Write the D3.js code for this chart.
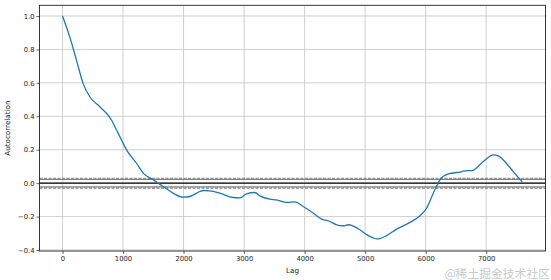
<!DOCTYPE html>
<html><head><meta charset="utf-8">
<script src="https://cdn.jsdelivr.net/npm/d3@7"></script>
<style>body{margin:0;background:#fff}svg{display:block}</style>
</head><body><svg id="c" width="551" height="280"></svg>
<script>
const lags = [0,120,231,340,451,617,810,893,975,1058,1223,1333,1498,1663,1828,1993,2104,2270,2324,2435,2600,2820,2931,3041,3178,3261,3426,3537,3702,3840,3977,4142,4281,4390,4529,4638,4721,4914,5025,5134,5190,5245,5355,5521,5741,5906,6017,6126,6236,6374,6567,6678,6760,6952,7117,7200,7283,7448,7597];
const acf = [1.0,0.875,0.736,0.597,0.517,0.457,0.378,0.318,0.258,0.199,0.119,0.06,0.02,-0.02,-0.06,-0.084,-0.08,-0.05,-0.044,-0.046,-0.06,-0.086,-0.088,-0.064,-0.056,-0.076,-0.096,-0.10,-0.115,-0.112,-0.14,-0.179,-0.215,-0.225,-0.249,-0.255,-0.249,-0.279,-0.308,-0.328,-0.334,-0.332,-0.314,-0.275,-0.235,-0.195,-0.149,-0.06,0.02,0.055,0.066,0.075,0.075,0.129,0.169,0.163,0.139,0.069,0.006];
const xTicks = [0,1000,2000,3000,4000,5000,6000,7000];
const yTicks = [-0.4,-0.2,0.0,0.2,0.4,0.6,0.8,1.0];
const nObs = 7600;
const z95 = 1.959963984540054, z99 = 2.5758293035489;

const svg = d3.select("#c");
const L = 39.5, R = 545.5, T = 5.3, B = 251;
const x = d3.scaleLinear().domain([-380, 7980]).range([L, R]);
const y = d3.scaleLinear().domain([-0.406, 1.064]).range([B, T]);
const font = "DejaVu Sans, sans-serif";

// grid
const g = svg.append("g");
g.selectAll(".vg").data(xTicks).join("line")
  .attr("x1", d => x(d)).attr("x2", d => x(d)).attr("y1", T).attr("y2", B)
  .attr("stroke", "#c4c4c4").attr("stroke-width", 0.8);
g.selectAll(".hg").data(yTicks).join("line")
  .attr("y1", d => y(d)).attr("y2", d => y(d)).attr("x1", L).attr("x2", R)
  .attr("stroke", "#c4c4c4").attr("stroke-width", 0.8);

// reference lines
const refs = [
  {v: z99/Math.sqrt(nObs), dash: "3,1.5", c: "grey"},
  {v: z95/Math.sqrt(nObs), dash: null, c: "grey"},
  {v: 0, dash: null, c: "black"},
  {v: -z95/Math.sqrt(nObs), dash: null, c: "grey"},
  {v: -z99/Math.sqrt(nObs), dash: "3,1.5", c: "grey"}
];
svg.selectAll(".ref").data(refs).join("line")
  .attr("x1", L).attr("x2", R).attr("y1", d => y(d.v)).attr("y2", d => y(d.v))
  .attr("stroke", d => d.c).attr("stroke-width", 1.1)
  .attr("stroke-dasharray", d => d.dash);

// line
const pts = lags.map((l, i) => [l, acf[i]]);
svg.append("path").datum(pts)
  .attr("fill", "none").attr("stroke", "#1f77b4").attr("stroke-width", 1.3)
  .attr("d", d3.line().x(d => x(d[0])).y(d => y(d[1])).curve(d3.curveMonotoneX));

// axes
const xa = svg.append("g").attr("transform", `translate(0,${B})`)
  .call(d3.axisBottom(x).tickValues(xTicks).tickFormat(d3.format("d")).tickSize(3).tickPadding(2));
const ya = svg.append("g").attr("transform", `translate(${L},0)`)
  .call(d3.axisLeft(y).tickValues(yTicks).tickFormat(d => d3.format(".1f")(d).replace("-", "\u2212")).tickSize(3).tickPadding(2));
[xa, ya].forEach(a => {
  a.select(".domain").remove();
  a.selectAll("text").attr("font-family", font).attr("font-size", 6.8).attr("fill", "#222");
  a.selectAll("line").attr("stroke", "#222").attr("stroke-width", 0.7);
});
// spines
svg.append("rect").attr("x", L).attr("y", T).attr("width", R - L).attr("height", B - T)
  .attr("fill", "none").attr("stroke", "#222").attr("stroke-width", 0.9);

svg.append("text").attr("x", (L + R) / 2).attr("y", 273).attr("text-anchor", "middle")
  .attr("font-family", font).attr("font-size", 7.2).attr("fill", "#222").text("Lag");
svg.append("text").attr("transform", `translate(10,${(T + B) / 2}) rotate(-90)`)
  .attr("text-anchor", "middle").attr("font-family", font).attr("font-size", 7.2)
  .attr("fill", "#222").text("Autocorrelation");

// watermark
svg.append("text").attr("x", 550).attr("y", 277.5).attr("text-anchor", "end")
  .attr("font-family", "Noto Sans CJK SC, sans-serif").attr("font-size", 11.8)
  .attr("fill", "#c9c9c9").text("@稀土掘金技术社区");
</script></body></html>
